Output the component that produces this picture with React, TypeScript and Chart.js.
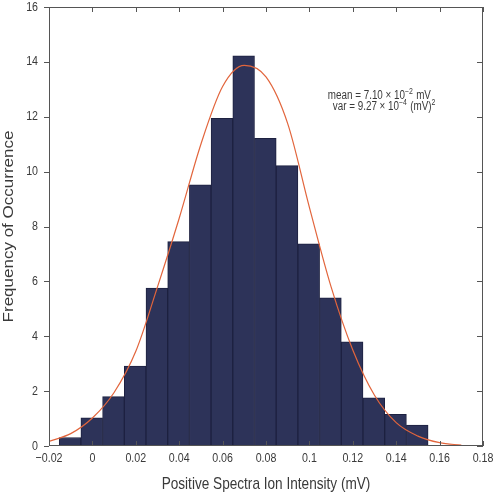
import React, { useEffect, useRef } from 'react';
import { Chart, registerables } from 'chart.js';

Chart.register(...registerables);

// Histogram bins (centre of each 0.01-wide bin) and their heights
const binCenters = [-0.0103, -0.0003, 0.0097, 0.0197, 0.0297, 0.0397, 0.0497, 0.0597, 0.0697, 0.0797, 0.0897, 0.0997, 0.1097, 0.1197, 0.1297, 0.1397, 0.1497];
const binHeights = [0.31, 1.03, 1.80, 2.91, 5.76, 7.45, 9.52, 11.94, 14.22, 11.21, 10.22, 7.37, 5.40, 3.80, 1.76, 1.15, 0.76];

// Fitted curve
const fitX = [-0.02, -0.01, 0, 0.01, 0.02, 0.03, 0.04, 0.05, 0.06, 0.07, 0.08, 0.09, 0.10, 0.11, 0.12, 0.13, 0.14, 0.15, 0.16, 0.17];
const fitY = [0.17, 0.45, 1.02, 1.95, 3.45, 5.8, 8.3, 11.0, 13.1, 13.87, 13.45, 11.75, 8.7, 5.8, 3.5, 1.85, 0.85, 0.36, 0.12, 0.03];

const xTicks = [-0.02, 0, 0.02, 0.04, 0.06, 0.08, 0.1, 0.12, 0.14, 0.16, 0.18];
const yTicks = [0, 2, 4, 6, 8, 10, 12, 14, 16];

const xTitle = 'Positive Spectra Ion Intensity (mV)';
const yTitle = 'Frequency of Occurrence';
const meanLine = ['mean = 7.10 \u00d7 10', '\u22122', ' mV'];
const varLine = ['var = 9.27 \u00d7 10', '\u22124', ' (mV)', '2'];

const FONT = "'Liberation Sans', Arial, sans-serif";
const TEXT = '#3a3a3a';
const SQUEEZE = 0.82;

const fmt = (v: number) => {
  const r = Math.round(v * 100) / 100;
  return String(r).replace('-', '\u2212');
};

function drawText(ctx: any, text: string, x: number, y: number, size: number, align: string, baseline: string, rotate = false) {
  ctx.save();
  ctx.translate(x, y);
  ctx.scale(SQUEEZE, 1);
  if (rotate) ctx.rotate(-Math.PI / 2);
  ctx.font = `${size}px ${FONT}`;
  ctx.fillStyle = TEXT;
  ctx.textAlign = align;
  ctx.textBaseline = baseline;
  ctx.fillText(text, 0, 0);
  ctx.restore();
}

const framePlugin = {
  id: 'frame',
  afterDatasetsDraw(chart: any) {
    const { ctx, chartArea: a, scales } = chart;
    const x = scales.x;
    const y = scales.y;
    ctx.save();
    ctx.strokeStyle = '#555';
    ctx.lineWidth = 1;
    ctx.strokeRect(a.left + 0.5, a.top + 0.5, a.right - a.left - 1, a.bottom - a.top - 1);
    ctx.beginPath();
    xTicks.forEach((v) => {
      const px = Math.round(x.getPixelForValue(v)) + 0.5;
      ctx.moveTo(px, a.bottom);
      ctx.lineTo(px, a.bottom - 5);
      ctx.moveTo(px, a.top);
      ctx.lineTo(px, a.top + 5);
    });
    yTicks.forEach((v) => {
      const py = Math.round(y.getPixelForValue(v)) + 0.5;
      ctx.moveTo(a.left, py);
      ctx.lineTo(a.left - 5, py);
      ctx.moveTo(a.right, py);
      ctx.lineTo(a.right - 6, py);
    });
    ctx.stroke();
    ctx.restore();

    // tick labels
    xTicks.forEach((v) => {
      drawText(ctx, fmt(v), x.getPixelForValue(v), a.bottom + 12, 13, 'center', 'middle');
    });
    yTicks.forEach((v) => {
      drawText(ctx, fmt(v), a.left - 11, y.getPixelForValue(v), 13, 'right', 'middle');
    });

    // axis titles
    drawText(ctx, xTitle, (a.left + a.right) / 2, 484, 16.6, 'center', 'middle');
    drawText(ctx, yTitle, 9, (a.top + a.bottom) / 2, 17, 'center', 'middle', true);

    // annotation
    const drawParts = (parts: string[], px: number, py: number) => {
      let cx = px;
      parts.forEach((p, i) => {
        const sup = i % 2 === 1;
        const size = sup ? 8.5 : 12;
        drawText(ctx, p, cx, sup ? py - 5 : py, size, 'left', 'alphabetic');
        ctx.save();
        ctx.font = `${size}px ${FONT}`;
        cx += ctx.measureText(p).width * SQUEEZE + (sup ? 0.5 : 0);
        ctx.restore();
      });
    };
    drawParts(meanLine, x.getPixelForValue(0.1085), y.getPixelForValue(12.64));
    drawParts(varLine, x.getPixelForValue(0.1108), y.getPixelForValue(12.24));
  },
};

export default function App() {
  const ref = useRef<HTMLCanvasElement | null>(null);
  useEffect(() => {
    if (!ref.current) return;
    const chart = new Chart(ref.current, {
      type: 'bar',
      data: {
        datasets: [
          {
            type: 'line',
            data: fitX.map((v, i) => ({ x: v, y: fitY[i] })),
            borderColor: '#e2653c',
            borderWidth: 1.2,
            pointRadius: 0,
            cubicInterpolationMode: 'monotone',
            order: 0,
          } as any,
          {
            type: 'bar',
            data: binCenters.map((v, i) => ({ x: v, y: binHeights[i] })),
            backgroundColor: '#2d3359',
            borderColor: '#1d2140',
            borderWidth: 1,
            barPercentage: 1,
            categoryPercentage: 1,
            order: 1,
          } as any,
        ],
      },
      options: {
        animation: false,
        responsive: false,
        maintainAspectRatio: false,
        layout: { padding: { top: 7, right: 10, left: 0, bottom: 0 } },
        plugins: { legend: { display: false }, tooltip: { enabled: false } },
        scales: {
          x: {
            type: 'linear',
            min: -0.02,
            max: 0.18,
            offset: false,
            grid: { display: false, drawTicks: false, offset: false },
            border: { display: false },
            afterBuildTicks: (s: any) => {
              s.ticks = xTicks.map((v) => ({ value: v }));
            },
            afterFit: (s: any) => {
              s.height = 50;
            },
            ticks: { display: false },
            title: { display: false },
          },
          y: {
            type: 'linear',
            min: 0,
            max: 16,
            grid: { display: false, drawTicks: false },
            border: { display: false },
            afterBuildTicks: (s: any) => {
              s.ticks = yTicks.map((v) => ({ value: v }));
            },
            afterFit: (s: any) => {
              s.width = 49;
            },
            ticks: { display: false },
            title: { display: false },
          },
        },
      },
      plugins: [framePlugin],
    });
    return () => chart.destroy();
  }, []);
  return (
    <div style={{ position: 'absolute', left: 0, top: 0, width: 493, height: 496, background: '#fff' }}>
      <canvas ref={ref} width={493} height={496} style={{ display: 'block', width: 493, height: 496 }} />
    </div>
  );
}
